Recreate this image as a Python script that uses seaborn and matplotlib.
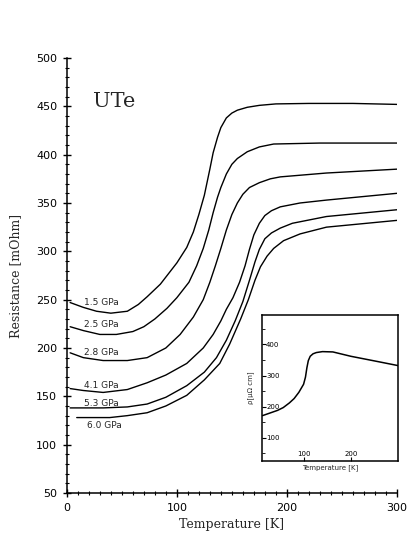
import numpy as np
import pandas as pd
import matplotlib
matplotlib.use("Agg")
import matplotlib.pyplot as plt
import seaborn as sns
from matplotlib.ticker import MultipleLocator

# ---- data ----
pressures = ["1.5 GPa", "2.5 GPa", "2.8 GPa", "4.1 GPa", "5.3 GPa", "6.0 GPa"]

t_15 = [3, 15, 27, 40, 55, 65, 73, 85, 100, 109, 115, 120, 125, 130, 133, 137, 140, 145, 150, 155, 164, 175, 190, 220, 260, 300]
r_15 = [247, 242, 238, 236, 238, 245, 253, 266, 288, 304, 320, 338, 358, 385, 402, 418, 428, 438, 443, 446, 449, 451, 452.5, 453, 453, 452]

t_25 = [3, 15, 30, 45, 60, 70, 80, 91, 100, 111, 118, 124, 129, 133, 137, 140, 145, 150, 155, 164, 175, 188, 230, 300]
r_25 = [222, 218, 214, 214, 217, 222, 230, 241, 252, 268, 285, 303, 322, 340, 356, 366, 380, 390, 396, 403, 408, 411, 412, 412]

t_28 = [3, 15, 33, 55, 73, 90, 103, 115, 124, 130, 135, 140, 145, 150, 155, 160, 166, 175, 185, 194, 236, 300]
r_28 = [195, 190, 187, 187, 190, 200, 214, 232, 250, 268, 285, 303, 322, 338, 350, 359, 366, 371, 375, 377, 381, 385]

t_41 = [3, 15, 33, 55, 73, 90, 109, 124, 133, 140, 145, 151, 157, 162, 166, 170, 175, 180, 186, 194, 212, 236, 300]
r_41 = [158, 156, 154, 157, 164, 172, 184, 200, 214, 228, 240, 252, 268, 285, 302, 317, 329, 337, 342, 346, 350, 353, 360]

t_53 = [3, 33, 55, 73, 90, 109, 125, 136, 145, 153, 160, 166, 171, 175, 180, 186, 194, 205, 236, 300]
r_53 = [138, 138, 139, 142, 149, 161, 175, 190, 208, 228, 248, 270, 289, 302, 313, 319, 324, 329, 336, 343]

t_60 = [9, 39, 55, 73, 90, 109, 125, 139, 148, 158, 165, 171, 176, 182, 188, 197, 212, 236, 300]
r_60 = [128, 128, 130, 133, 140, 151, 167, 184, 204, 230, 250, 270, 284, 295, 303, 311, 318, 325, 332]

label_t = [16, 16, 16, 16, 16, 18]
label_r = [247, 224, 195, 161, 143, 120]

inset_t = [13, 30, 45, 57, 70, 80, 90, 100, 104, 107, 110, 114, 120, 127, 140, 162, 200, 257, 300]
inset_r = [171, 180, 188, 197, 212, 226, 246, 272, 295, 325, 348, 362, 370, 374, 377, 376, 362, 345, 332]

series_t = [t_15, t_25, t_28, t_41, t_53, t_60]
series_r = [r_15, r_25, r_28, r_41, r_53, r_60]

frames = []
for p, tt, rr in zip(pressures, series_t, series_r):
    frames.append(pd.DataFrame({"T": tt, "R": rr, "P": p}))
df = pd.concat(frames, ignore_index=True)
df_in = pd.DataFrame({"T": inset_t, "rho": inset_r})

sns.set_style("ticks")
plt.rcParams["font.family"] = ["DejaVu Sans"]

fig = plt.figure(figsize=(4.10, 5.37), dpi=100)
ax = fig.add_axes([0.163, 0.082, 0.805, 0.810])

sns.lineplot(data=df, x="T", y="R", hue="P", palette=["black"] * 6,
             legend=False, ax=ax, linewidth=1.0, sort=True)

ax.set_xlim(0, 300)
ax.set_ylim(50, 500)
ax.xaxis.set_major_locator(MultipleLocator(100))
ax.xaxis.set_minor_locator(MultipleLocator(10))
ax.yaxis.set_major_locator(MultipleLocator(50))
ax.yaxis.set_minor_locator(MultipleLocator(10))
ax.tick_params(which="major", direction="inout", length=6, width=1.0,
               labelsize=8, color="black", labelcolor="black", pad=4)
ax.tick_params(which="minor", direction="inout", length=3, width=0.8, color="black")
for s in ["top", "right"]:
    ax.spines[s].set_visible(False)
for s in ["left", "bottom"]:
    ax.spines[s].set_linewidth(1.1)
    ax.spines[s].set_color("black")

ax.set_xlabel("Temperature [K]", family="DejaVu Serif", fontsize=9, labelpad=4)
ax.set_ylabel("Resistance [mOhm]", family="DejaVu Serif", fontsize=9, labelpad=10)

ax.text(24, 455, "UTe", family="DejaVu Serif", fontsize=15, va="center", ha="left")

for p, lt, lr in zip(pressures, label_t, label_r):
    ax.text(lt, lr, p, fontsize=6.5, va="center", ha="left")

# ---- inset ----
ins = fig.add_axes([0.639, 0.1415, 0.332, 0.272])
sns.lineplot(data=df_in, x="T", y="rho", color="black", linewidth=1.1, ax=ins)
ins.set_xlim(12, 300)
ins.set_ylim(25, 495)
ins.yaxis.set_minor_locator(MultipleLocator(50))
ins.set_xticks([100, 200])
ins.set_xticklabels(["100", "200"], va="bottom")
ins.set_yticks([100, 200, 300, 400])
ins.set_yticklabels(["100", "200", "300", "400"], ha="left")
ins.tick_params(axis="both", which="major", direction="in", length=3,
                labelsize=5, color="black", labelcolor="black")
ins.tick_params(axis="both", which="minor", direction="in", length=2, color="black")
ins.tick_params(axis="y", pad=-3)
ins.tick_params(axis="x", pad=-3)
for s in ins.spines.values():
    s.set_linewidth(1.1)
    s.set_color("black")
ins.set_xlabel("Temperature [K]", fontsize=5, labelpad=2)
ins.set_ylabel("ρ[μΩ cm]", fontsize=5, labelpad=2)

fig.savefig("out.png", dpi=100)
